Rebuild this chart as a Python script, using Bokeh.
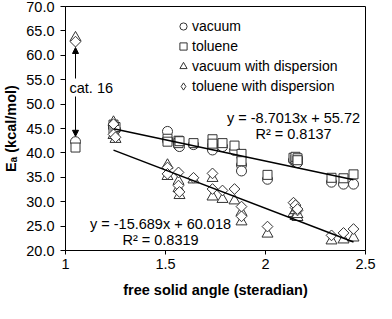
import math
from bokeh.plotting import figure
from bokeh.models import (Range1d, FixedTicker, PrintfTickFormatter, Legend, LegendItem,
                          Label, Arrow, NormalHead, ColumnDataSource)
from bokeh.embed import file_html
from bokeh.resources import INLINE

FONT = "Liberation Sans"

# ---- data ----
solid_angle = [1.05,
               1.24, 1.24, 1.25,
               1.51, 1.51,
               1.565, 1.565, 1.57,
               1.64,
               1.735, 1.735,
               1.785,
               1.845,
               1.88, 1.88,
               2.01,
               2.14, 2.15, 2.15, 2.16, 2.16,
               2.33, 2.39, 2.44]
vacuum = [42.3,
          45.6, 45.2, 44.8,
          44.4, 42.7,
          41.5, 42.0, 41.3,
          41.7,
          41.5, 40.6,
          41.3,
          40.5,
          37.5, 36.3,
          34.6,
          38.5, 38.2, 38.6, 38.0, 38.8,
          34.0, 33.6, 33.6]
toluene = [41.1,
           45.8, 44.9, 45.3,
           42.9, 42.3,
           42.5, 42.0, 42.4,
           42.0,
           42.8, 41.9,
           42.0,
           41.5,
           39.8, 38.3,
           35.5,
           39.0, 38.7, 39.2, 38.9, 38.5,
           34.9, 34.8, 35.6]
vacuum_disp = [63.6,
               46.3, 43.6, 42.8,
               37.5, 35.2,
               34.2, 32.7, 31.3,
               34.5,
               34.8, 31.0,
               30.5,
               30.2,
               27.8, 25.9,
               23.4,
               27.6, 27.0, 28.2, 26.8, 27.4,
               22.0, 22.2, 22.6]
toluene_disp = [62.8,
                45.9, 43.8, 43.2,
                37.0, 35.7,
                36.0, 33.3, 32.0,
                34.9,
                35.8, 32.6,
                32.3,
                32.6,
                29.0, 27.0,
                24.9,
                29.8, 28.8, 29.3, 28.2, 28.5,
                23.1, 23.6, 24.4]
series_names = ["vacuum", "toluene", "vacuum with dispersion", "toluene with dispersion"]

fit_slope = [-8.7013, -15.689]
fit_intercept = [55.72, 60.018]
fit_r2 = [0.8137, 0.8319]
fit_label_x = [2.14, 1.475]
fit_label_y = [47.1, 25.5]

y_ticks = [20, 25, 30, 35, 40, 45, 50, 55, 60, 65, 70]
x_ticks = [1, 1.5, 2, 2.5]
x_tick_labels = ["1", "1.5", "2", "2.5"]

# ---- figure ----
p = figure(width=376, height=303, output_backend="svg", toolbar_location=None,
           x_range=Range1d(1, 2.5), y_range=Range1d(20, 70),
           min_border_left=64, min_border_right=11, min_border_top=6, min_border_bottom=53)
p.grid.visible = False
p.background_fill_color = "white"
p.border_fill_color = "white"
p.outline_line_color = "#000000"
p.outline_line_width = 1

for ax in (p.xaxis[0], p.yaxis[0]):
    ax.axis_line_color = "#000000"
    ax.major_tick_line_color = "#000000"
    ax.minor_tick_line_color = None
    ax.major_tick_in = 0
    ax.major_label_text_font = FONT
    ax.major_label_text_font_size = "14.5px"
    ax.major_label_text_color = "#000000"
    ax.axis_label_text_font = FONT
    ax.axis_label_text_font_size = "14.5px"
    ax.axis_label_text_font_style = "bold"
    ax.axis_label_text_color = "#000000"

p.xaxis[0].ticker = FixedTicker(ticks=x_ticks)
p.xaxis[0].major_label_overrides = {t: s for t, s in zip(x_ticks, x_tick_labels)}
p.xaxis[0].major_tick_out = 4
p.xaxis[0].major_label_standoff = 4
p.xaxis[0].axis_label = "free solid angle (steradian)"
p.xaxis[0].axis_label_standoff = 10

p.yaxis[0].ticker = FixedTicker(ticks=y_ticks)
p.yaxis[0].formatter = PrintfTickFormatter(format="%.1f")
p.yaxis[0].major_tick_out = 5
p.yaxis[0].major_label_standoff = 6
p.yaxis[0].axis_label = "E\u2090 (kcal/mol)"
p.yaxis[0].axis_label_standoff = 4

# ---- scatter series ----
marker_line = "#333333"
sources = [ColumnDataSource(dict(x=solid_angle, y=vals))
           for vals in (vacuum, toluene, vacuum_disp, toluene_disp)]

r_vac = p.scatter("x", "y", source=sources[0], marker="circle", size=10,
                  fill_color="white", line_color=marker_line, line_width=1)
r_tol = p.scatter("x", "y", source=sources[1], marker="square", size=9,
                  fill_color="white", line_color=marker_line, line_width=1)
r_vdisp = p.scatter("x", "y", source=sources[2], marker="triangle", size=11,
                    fill_color="white", line_color=marker_line, line_width=1)
# diamond swatch for the legend (legend glyphs are not rotated); it sits under the rotated squares
r_tdisp_legend = p.scatter("x", "y", source=sources[3], marker="diamond", size=8,
                           fill_color="white", line_color=marker_line, line_width=1)
r_tdisp = p.scatter("x", "y", source=sources[3], marker="square", size=7.6, angle=math.pi / 4,
                    fill_color="white", line_color=marker_line, line_width=1)
legend_renderers = [r_vac, r_tol, r_vdisp, r_tdisp_legend]

# ---- linear fits (upper: no dispersion, lower: with dispersion) ----
fit_x = [x for x in solid_angle if x > 1.1]
x0, x1 = min(fit_x), max(fit_x)
for k in range(2):
    p.line([x0, x1], [fit_slope[k] * x0 + fit_intercept[k], fit_slope[k] * x1 + fit_intercept[k]],
           line_color="#000000", line_width=1.5)
    p.add_layout(Label(x=fit_label_x[k], y=fit_label_y[k],
                       text="y = %sx + %s" % (fit_slope[k], fit_intercept[k]),
                       text_align="center", text_baseline="middle",
                       text_font=FONT, text_font_size="14.5px", text_color="#000000"))
    p.add_layout(Label(x=fit_label_x[k], y=fit_label_y[k] - 3.3,
                       text="R\u00b2 = %s" % fit_r2[k],
                       text_align="center", text_baseline="middle",
                       text_font=FONT, text_font_size="14.5px", text_color="#000000"))

# ---- cat. 16 annotation ----
cat_x = solid_angle[0]
p.add_layout(Arrow(x_start=cat_x, y_start=toluene_disp[0] - 1.2, x_end=cat_x, y_end=vacuum[0] + 1.1,
                   line_color="#000000", line_width=1,
                   start=NormalHead(size=6, fill_color="#000000", line_color="#000000"),
                   end=NormalHead(size=6, fill_color="#000000", line_color="#000000")))
p.add_layout(Label(x=1.015, y=53.4, text="cat. 16", text_baseline="middle", text_align="left",
                   text_font=FONT, text_font_size="14.5px", text_color="#000000",
                   background_fill_color="white", padding=1))

# ---- legend ----
legend = Legend(items=[LegendItem(label=n, renderers=[r]) for n, r in zip(series_names, legend_renderers)],
                location=(109, 155), orientation="vertical",
                glyph_width=18, glyph_height=18, label_height=18, spacing=2,
                label_standoff=-7, padding=0, margin=0,
                label_text_font=FONT, label_text_font_size="14px", label_text_color="#000000",
                border_line_alpha=0, background_fill_alpha=0)
p.add_layout(legend, "center")

open("out.html", "w").write(file_html(p, INLINE))
